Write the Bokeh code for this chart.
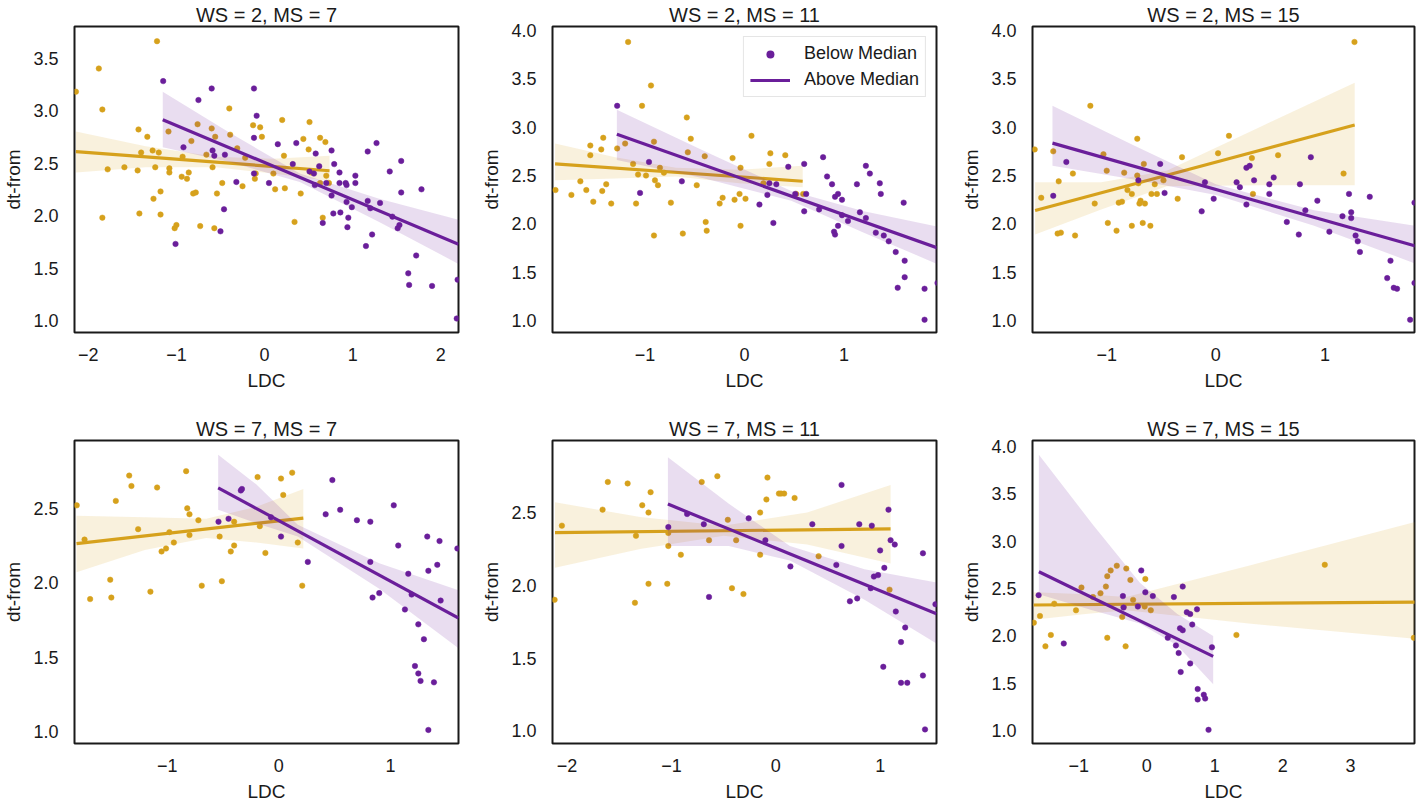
from bokeh.plotting import figure
from bokeh.layouts import gridplot
from bokeh.models import Range1d, FixedTicker, CustomJSTickFormatter, Legend, LegendItem
from bokeh.embed import file_html
from bokeh.resources import INLINE

GOLD = "#D6A11C"
PURPLE = "#6A1E9A"
FONT = "Liberation Sans"

titles = ["WS = 2, MS = 7", "WS = 2, MS = 11", "WS = 2, MS = 15",
          "WS = 7, MS = 7", "WS = 7, MS = 11", "WS = 7, MS = 15"]
x_label = "LDC"
y_label = "dt-from"
legend_labels = ["Below Median", "Above Median"]

# ---------------- Panel 1: WS = 2, MS = 7 ----------------
p1_gold_x = [-2.14, -1.22, -1.88, -1.84, -1.78, -1.84, -1.59, -1.43, -1.44, -1.42, -1.40, -1.33, -1.27, -1.24,
             -1.20, -1.18, -1.18, -1.26, -1.09, -1.08, -1.08, -1.02, -1.00, -0.94, -0.93, -0.88, -0.86, -0.81,
             -0.78, -0.76, -0.73, -0.83, -0.66, -0.60, -0.59, -0.56, -0.54, -0.57, -0.48, -0.40, -0.39, -0.31,
             -0.25, -0.22, -0.13, -0.10, -0.05, -0.03, -0.11, 0.10, 0.12, 0.20, 0.22, 0.23, 0.34, 0.41, 0.44,
             0.50, 0.51, 0.53, 0.63, 0.63, 0.66, 0.69, 0.70, 0.73]
p1_gold_y = [3.18, 3.66, 3.40, 3.01, 2.44, 1.98, 2.46, 2.82, 2.43, 2.02, 2.60, 2.75, 2.62, 2.46,
             2.60, 2.23, 2.01, 2.16, 2.80, 2.45, 2.41, 1.88, 1.91, 2.37, 2.56, 2.35, 2.41, 2.21,
             2.22, 2.87, 1.90, 2.71, 2.58, 2.83, 2.46, 2.75, 2.21, 1.88, 2.31, 3.02, 2.77, 2.64,
             2.28, 2.55, 2.86, 2.40, 2.84, 2.75, 2.35, 2.40, 2.25, 2.91, 2.57, 2.26, 1.94, 2.21, 2.73,
             2.63, 2.89, 2.41, 2.74, 2.31, 1.98, 2.70, 2.38, 2.31]
p1_purp_x = [-1.15, -1.01, -0.92, -0.75, -0.60, -0.59, -0.57, -0.50, -0.46, -0.45, -0.32, -0.12, -0.09, -0.12,
             -0.12, 0.05, 0.15, 0.32, 0.36, 0.51, 0.56, 0.58, 0.57, 0.62, 0.66, 0.70, 0.76, 0.76, 0.79, 0.78,
             0.85, 0.86, 0.85, 0.92, 0.93, 0.93, 0.94, 0.95, 0.99, 1.03, 1.03, 1.15, 1.17, 1.17, 1.20, 1.22,
             1.27, 1.31, 1.42, 1.45, 1.51, 1.53, 1.55, 1.55, 1.63, 1.64, 1.72, 1.78, 1.90, 2.19, 2.18]
p1_purp_y = [3.28, 1.73, 2.65, 3.10, 3.21, 2.62, 2.57, 1.85, 2.06, 2.58, 2.32, 3.21, 2.95, 2.74,
             2.40, 2.31, 2.68, 2.49, 2.69, 2.42, 2.40, 2.59, 2.29, 2.47, 1.93, 2.31, 2.62, 2.19, 2.49, 2.02,
             2.41, 2.03, 2.31, 2.31, 2.29, 2.13, 1.89, 1.98, 2.08, 2.38, 2.31, 1.71, 2.61, 2.14, 2.07, 1.82,
             2.69, 2.12, 2.42, 1.99, 1.88, 1.91, 2.52, 2.22, 1.45, 1.34, 1.62, 2.25, 1.33, 1.39, 1.02]
p1_gold_fit_x = [-2.14, 0.737]
p1_gold_fit_y = [2.609, 2.427]
p1_purp_fit_x = [-1.155, 2.2]
p1_purp_fit_y = [2.913, 1.728]
p1_gold_band_x = [-2.14, -1.35, -0.55, 0.1, 0.737]
p1_gold_band_lo = [2.41, 2.46, 2.46, 2.40, 2.33]
p1_gold_band_hi = [2.80, 2.66, 2.56, 2.54, 2.57]
p1_purp_band_x = [-1.155, -0.4, 0.4, 1.3, 2.2]
p1_purp_band_lo = [2.65, 2.51, 2.32, 1.94, 1.54]
p1_purp_band_hi = [3.18, 2.79, 2.40, 2.16, 1.96]
p1_xrange = (-2.156, 2.2)
p1_yrange = (0.887, 3.80)
p1_xticks = [-2, -1, 0, 1, 2]
p1_yticks = [1.0, 1.5, 2.0, 2.5, 3.0, 3.5]

# ---------------- Panel 2: WS = 2, MS = 11 ----------------
p2_gold_x = [-1.90, -1.74, -1.65, -1.59, -1.55, -1.55, -1.52, -1.44, -1.43, -1.42, -1.39, -1.34, -1.28, -1.20,
             -1.17, -1.12, -1.09, -1.07, -1.03, -0.99, -0.94, -0.91, -0.91, -0.90, -0.87, -0.85, -0.81, -0.74,
             -0.62, -0.58, -0.57, -0.54, -0.48, -0.40, -0.39, -0.38, -0.25, -0.22, -0.12, -0.10, -0.05, -0.04,
             -0.04, 0.01, 0.07, 0.26, 0.25, 0.41, 0.52, 0.59, 0.19]
p2_gold_y = [2.35, 2.30, 2.44, 2.35, 2.81, 2.71, 2.23, 2.77, 2.34, 2.89, 2.41, 2.21, 2.78, 2.83,
             3.88, 2.62, 2.21, 2.51, 3.22, 2.50, 3.43, 2.85, 1.88, 2.45, 2.40, 2.58, 2.53, 2.22,
             1.90, 3.10, 2.74, 2.88, 2.40, 2.70, 2.02, 1.93, 2.21, 2.27, 2.68, 2.25, 2.31, 2.58,
             1.98, 2.26, 2.91, 2.73, 2.62, 2.71, 2.31, 2.31, 2.42]
p2_purp_x = [-1.28, -1.05, -0.96, -0.63, 0.15, 0.23, 0.25, 0.29, 0.32, 0.44, 0.51, 0.60, 0.60, 0.62, 0.75,
             0.79, 0.83, 0.88, 0.91, 0.90, 0.91, 0.94, 0.94, 0.98, 0.98, 1.04, 1.13, 1.16, 1.22, 1.22, 1.26,
             1.32, 1.36, 1.37, 1.40, 1.45, 1.52, 1.54, 1.60, 1.61, 1.61, 1.81, 1.81, 1.94]
p2_purp_y = [3.22, 2.32, 2.64, 2.44, 2.20, 2.30, 2.42, 2.01, 2.41, 2.59, 2.31, 2.62, 2.13, 2.31, 2.15,
             2.69, 2.49, 2.41, 2.28, 1.92, 1.89, 2.31, 1.98, 2.25, 2.09, 2.03, 2.41, 2.12, 2.60, 2.06, 2.52,
             1.91, 2.42, 2.31, 1.88, 1.82, 1.71, 1.34, 2.22, 1.62, 1.45, 1.33, 1.01, 1.39]
p2_gold_fit_x = [-1.904, 0.585]
p2_gold_fit_y = [2.621, 2.441]
p2_purp_fit_x = [-1.283, 1.95]
p2_purp_fit_y = [2.927, 1.748]
p2_gold_band_x = [-1.904, -1.3, -0.69, -0.05, 0.585]
p2_gold_band_lo = [2.45, 2.47, 2.49, 2.42, 2.38]
p2_gold_band_hi = [2.83, 2.69, 2.58, 2.56, 2.60]
p2_purp_band_x = [-1.283, -0.4, 0.47, 1.2, 1.95]
p2_purp_band_lo = [2.66, 2.47, 2.24, 1.91, 1.58]
p2_purp_band_hi = [3.18, 2.75, 2.34, 2.13, 1.97]
p2_xrange = (-1.93, 1.93)
p2_yrange = (0.878, 4.04)
p2_xticks = [-1, 0, 1]
p2_yticks = [1.0, 1.5, 2.0, 2.5, 3.0, 3.5, 4.0]

# ---------------- Panel 3: WS = 2, MS = 15 ----------------
p3_gold_x = [-1.66, -1.60, -1.49, -1.45, -1.44, -1.42, -1.31, -1.29, -1.15, -1.11, -1.03, -1.00, -0.99, -0.91,
             -0.89, -0.86, -0.84, -0.81, -0.77, -0.77, -0.72, -0.72, -0.71, -0.70, -0.69, -0.67, -0.66, -0.65,
             -0.60, -0.59, -0.56, -0.54, -0.48, -0.35, -0.31, 0.02, 0.12, 0.33, 0.34, 0.57, 1.17, 1.27]
p3_gold_y = [2.77, 2.27, 2.75, 1.90, 2.44, 1.91, 2.52, 1.88, 3.22, 2.21, 2.72, 2.55, 2.01, 1.93,
             2.22, 2.23, 2.53, 2.35, 1.98, 2.31, 2.88, 2.50, 2.42, 2.21, 2.24, 2.01, 2.62, 2.21,
             1.98, 2.31, 2.41, 2.31, 2.45, 2.26, 2.69, 2.73, 2.91, 2.68, 2.31, 2.71, 2.52, 3.88]
p3_purp_x = [-1.49, -1.37, -0.71, -0.51, -0.47, -0.13, -0.10, -0.02, 0.19, 0.22, 0.28, 0.28, 0.31, 0.35,
             0.49, 0.49, 0.53, 0.65, 0.76, 0.77, 0.82, 0.87, 0.93, 1.04, 1.16, 1.22, 1.24, 1.24, 1.28, 1.30,
             1.32, 1.41, 1.57, 1.60, 1.63, 1.66, 1.78, 1.82, 1.82]
p3_purp_y = [2.29, 2.64, 2.45, 2.62, 2.32, 2.13, 2.43, 2.26, 2.43, 2.38, 2.20, 2.58, 2.60, 2.45,
             2.41, 2.31, 2.48, 2.02, 1.89, 2.41, 2.14, 2.69, 2.24, 1.92, 2.08, 2.31, 2.12, 2.06, 1.88, 1.82,
             1.71, 2.28, 1.44, 1.62, 1.34, 1.33, 1.01, 2.22, 1.39]
p3_gold_fit_x = [-1.656, 1.272]
p3_gold_fit_y = [2.138, 3.022]
p3_purp_fit_x = [-1.497, 1.83]
p3_purp_fit_y = [2.835, 1.771]
p3_gold_band_x = [-1.656, -1.05, -0.45, 0.4, 1.272]
p3_gold_band_lo = [1.89, 2.15, 2.39, 2.40, 2.40]
p3_gold_band_hi = [2.43, 2.43, 2.55, 3.00, 3.46]
p3_purp_band_x = [-1.497, -0.75, 0.0, 0.9, 1.83]
p3_purp_band_lo = [2.60, 2.46, 2.30, 1.98, 1.59]
p3_purp_band_hi = [3.22, 2.81, 2.41, 2.14, 1.98]
p3_xrange = (-1.68, 1.82)
p3_yrange = (0.878, 4.04)
p3_xticks = [-1, 0, 1]
p3_yticks = [1.0, 1.5, 2.0, 2.5, 3.0, 3.5, 4.0]

# ---------------- Panel 4: WS = 7, MS = 7 ----------------
p4_gold_x = [-1.81, -1.74, -1.69, -1.51, -1.50, -1.46, -1.34, -1.32, -1.26, -1.15, -1.09, -1.05, -1.01, -0.98,
             -0.94, -0.83, -0.82, -0.80, -0.80, -0.72, -0.69, -0.53, -0.51, -0.43, -0.40, -0.40, -0.19, -0.17,
             -0.12, 0.02, 0.04, 0.12, 0.17, 0.21]
p4_gold_y = [2.52, 2.29, 1.89, 2.02, 1.90, 2.55, 2.72, 2.65, 2.36, 1.94, 2.64, 2.21, 2.23, 2.34,
             2.27, 2.75, 2.50, 2.46, 2.32, 2.42, 1.98, 2.31, 2.01, 2.21, 2.25, 2.41, 2.71, 2.38,
             2.20, 2.70, 2.59, 2.74, 2.27, 1.98]
p4_purp_x = [-0.54, -0.45, -0.34, -0.33, -0.07, 0.02, 0.26, 0.42, 0.48, 0.55, 0.70, 0.82, 0.82, 0.84, 0.90,
             1.03, 1.07, 1.13, 1.16, 1.19, 1.22, 1.25, 1.25, 1.27, 1.30, 1.33, 1.34, 1.34, 1.39, 1.42, 1.44,
             1.45, 1.60]
p4_purp_y = [2.41, 2.43, 2.62, 2.63, 2.44, 2.31, 2.14, 2.46, 2.69, 2.49, 2.42, 2.41, 2.14, 1.90, 1.93,
             2.52, 2.25, 1.82, 2.06, 1.92, 1.44, 1.39, 1.72, 1.34, 1.62, 2.31, 2.08, 1.01, 1.33, 2.12, 2.28,
             1.88, 2.23]
p4_gold_fit_x = [-1.812, 0.22]
p4_gold_fit_y = [2.263, 2.434]
p4_purp_fit_x = [-0.543, 1.61]
p4_purp_fit_y = [2.638, 1.762]
p4_gold_band_x = [-1.812, -1.2, -0.65, -0.2, 0.22]
p4_gold_band_lo = [2.07, 2.22, 2.30, 2.27, 2.23]
p4_gold_band_hi = [2.45, 2.44, 2.43, 2.51, 2.63]
p4_purp_band_x = [-0.543, -0.2, 0.17, 0.9, 1.61]
p4_purp_band_lo = [2.49, 2.40, 2.31, 1.96, 1.56]
p4_purp_band_hi = [2.86, 2.66, 2.39, 2.13, 1.95]
p4_xrange = (-1.83, 1.61)
p4_yrange = (0.919, 2.956)
p4_xticks = [-1, 0, 1]
p4_yticks = [1.0, 1.5, 2.0, 2.5]

# ---------------- Panel 5: WS = 7, MS = 11 ----------------
p5_gold_x = [-2.12, -2.05, -1.66, -1.61, -1.42, -1.34, -1.28, -1.22, -1.22, -1.20, -1.35, -1.04, -1.03, -1.03,
             -0.91, -0.71, -0.64, -0.56, -0.46, -0.42, -0.38, -0.31, -0.15, -0.15, -0.09, -0.08, 0.03, 0.05,
             0.08, 0.18, 0.41, 1.09]
p5_gold_y = [1.90, 2.41, 2.52, 2.71, 2.70, 2.34, 2.55, 2.50, 2.01, 2.64, 1.88, 2.01, 2.27, 2.36,
             2.21, 2.71, 2.31, 2.75, 2.45, 1.98, 2.31, 1.94, 2.21, 2.50, 2.59, 2.74, 2.63, 2.63,
             2.63, 2.60, 2.20, 1.97]
p5_purp_x = [-1.03, -0.85, -0.69, -0.64, -0.26, -0.10, 0.14, 0.35, 0.58, 0.63, 0.63, 0.71, 0.78, 0.80, 0.92,
             0.91, 0.94, 0.98, 1.00, 1.04, 1.03, 1.08, 1.10, 1.14, 1.15, 1.20, 1.20, 1.24, 1.26, 1.41, 1.41,
             1.43, 1.53]
p5_purp_y = [2.40, 2.49, 2.42, 1.92, 2.46, 2.31, 2.13, 2.42, 2.14, 2.69, 2.27, 1.89, 1.91, 2.42, 2.41,
             1.98, 2.06, 2.07, 2.24, 2.12, 1.44, 2.52, 2.31, 2.28, 1.82, 1.61, 1.33, 1.71, 1.33, 2.22, 1.38,
             1.01, 1.87]
p5_gold_fit_x = [-2.116, 1.10]
p5_gold_fit_y = [2.362, 2.388]
p5_purp_fit_x = [-1.034, 1.54]
p5_purp_fit_y = [2.558, 1.804]
p5_gold_band_x = [-2.116, -1.3, -0.5, 0.3, 1.10]
p5_gold_band_lo = [2.12, 2.25, 2.34, 2.28, 2.15]
p5_gold_band_hi = [2.57, 2.47, 2.41, 2.50, 2.69]
p5_purp_band_x = [-1.034, -0.45, 0.135, 0.85, 1.54]
p5_purp_band_lo = [2.27, 2.27, 2.17, 1.90, 1.60]
p5_purp_band_hi = [2.88, 2.56, 2.27, 2.11, 2.02]
p5_xrange = (-2.14, 1.54)
p5_yrange = (0.913, 2.995)
p5_xticks = [-2, -1, 0, 1]
p5_yticks = [1.0, 1.5, 2.0, 2.5]

# ---------------- Panel 6: WS = 7, MS = 15 ----------------
p6_gold_x = [-1.66, -1.57, -1.49, -1.41, -1.36, -1.04, -0.96, -0.79, -0.68, -0.60, -0.58, -0.58, -0.53, -0.44,
             -0.36, -0.34, -0.31, -0.30, -0.24, -0.20, -0.03, -0.02, 0.06, 1.32, 2.62, 3.93]
p6_gold_y = [2.14, 2.21, 1.89, 2.01, 2.34, 2.27, 2.51, 2.41, 2.45, 2.52, 2.63, 1.98, 2.69, 2.74,
             2.20, 2.31, 1.89, 2.71, 2.59, 2.38, 2.31, 2.60, 2.27, 2.01, 2.75, 1.98]
p6_purp_x = [-1.59, -1.22, -0.35, -0.34, -0.13, -0.08, -0.02, 0.09, 0.31, 0.40, 0.43, 0.47, 0.50, 0.49, 0.53,
             0.53, 0.59, 0.64, 0.67, 0.64, 0.74, 0.75, 0.75, 0.84, 0.86, 0.91, 0.96]
p6_purp_y = [2.43, 1.92, 2.42, 2.30, 2.31, 2.69, 2.46, 2.42, 1.98, 2.41, 1.90, 1.82, 1.62, 2.08, 2.52,
             2.06, 2.25, 2.23, 2.12, 1.71, 2.28, 1.44, 1.33, 1.38, 1.34, 1.01, 1.88]
p6_gold_fit_x = [-1.663, 3.947]
p6_gold_fit_y = [2.326, 2.357]
p6_purp_fit_x = [-1.586, 0.978]
p6_purp_fit_y = [2.677, 1.784]
p6_gold_band_x = [-1.663, -0.9, -0.3, 1.5, 3.947]
p6_gold_band_lo = [2.17, 2.23, 2.27, 2.13, 1.97]
p6_gold_band_hi = [2.46, 2.44, 2.41, 2.74, 3.20]
p6_purp_band_x = [-1.586, -0.8, -0.1, 0.45, 0.978]
p6_purp_band_lo = [2.44, 2.27, 2.13, 1.90, 1.49]
p6_purp_band_hi = [3.91, 3.18, 2.56, 2.23, 2.00]
p6_xrange = (-1.68, 3.94)
p6_yrange = (0.866, 4.06)
p6_xticks = [-1, 0, 1, 2, 3]
p6_yticks = [1.0, 1.5, 2.0, 2.5, 3.0, 3.5, 4.0]

panels = [
    (p1_gold_x, p1_gold_y, p1_purp_x, p1_purp_y, p1_gold_fit_x, p1_gold_fit_y, p1_purp_fit_x, p1_purp_fit_y,
     p1_gold_band_x, p1_gold_band_lo, p1_gold_band_hi, p1_purp_band_x, p1_purp_band_lo, p1_purp_band_hi,
     p1_xrange, p1_yrange, p1_xticks, p1_yticks),
    (p2_gold_x, p2_gold_y, p2_purp_x, p2_purp_y, p2_gold_fit_x, p2_gold_fit_y, p2_purp_fit_x, p2_purp_fit_y,
     p2_gold_band_x, p2_gold_band_lo, p2_gold_band_hi, p2_purp_band_x, p2_purp_band_lo, p2_purp_band_hi,
     p2_xrange, p2_yrange, p2_xticks, p2_yticks),
    (p3_gold_x, p3_gold_y, p3_purp_x, p3_purp_y, p3_gold_fit_x, p3_gold_fit_y, p3_purp_fit_x, p3_purp_fit_y,
     p3_gold_band_x, p3_gold_band_lo, p3_gold_band_hi, p3_purp_band_x, p3_purp_band_lo, p3_purp_band_hi,
     p3_xrange, p3_yrange, p3_xticks, p3_yticks),
    (p4_gold_x, p4_gold_y, p4_purp_x, p4_purp_y, p4_gold_fit_x, p4_gold_fit_y, p4_purp_fit_x, p4_purp_fit_y,
     p4_gold_band_x, p4_gold_band_lo, p4_gold_band_hi, p4_purp_band_x, p4_purp_band_lo, p4_purp_band_hi,
     p4_xrange, p4_yrange, p4_xticks, p4_yticks),
    (p5_gold_x, p5_gold_y, p5_purp_x, p5_purp_y, p5_gold_fit_x, p5_gold_fit_y, p5_purp_fit_x, p5_purp_fit_y,
     p5_gold_band_x, p5_gold_band_lo, p5_gold_band_hi, p5_purp_band_x, p5_purp_band_lo, p5_purp_band_hi,
     p5_xrange, p5_yrange, p5_xticks, p5_yticks),
    (p6_gold_x, p6_gold_y, p6_purp_x, p6_purp_y, p6_gold_fit_x, p6_gold_fit_y, p6_purp_fit_x, p6_purp_fit_y,
     p6_gold_band_x, p6_gold_band_lo, p6_gold_band_hi, p6_purp_band_x, p6_purp_band_lo, p6_purp_band_hi,
     p6_xrange, p6_yrange, p6_xticks, p6_yticks),
]

# layout (pixels)
LEFTS = [67, 68, 68]
RIGHTS = [20, 22, 2]
FRAME_WS = [391, 390, 388]
TOP = 24
BOTTOMS = [82, 58]
FRAME_H = 308

x_fmt = CustomJSTickFormatter(code="return tick < 0 ? '\\u2212' + Math.abs(tick) : tick.toFixed(0);")
y_fmt = CustomJSTickFormatter(code="return tick.toFixed(1);")

figs = []
for i, pan in enumerate(panels):
    (gx, gy, px, py, gfx, gfy, pfx, pfy, gbx, gblo, gbhi, pbx, pblo, pbhi, xr, yr, xt, yt) = pan
    row, col = divmod(i, 3)
    w = LEFTS[col] + FRAME_WS[col] + RIGHTS[col]
    h = TOP + FRAME_H + BOTTOMS[row]
    p = figure(width=w, height=h, output_backend="svg", toolbar_location=None,
               x_range=Range1d(*xr), y_range=Range1d(*yr), title=titles[i],
               min_border_left=LEFTS[col], min_border_right=RIGHTS[col],
               min_border_top=TOP, min_border_bottom=BOTTOMS[row])
    p.title.text_font = FONT
    p.title.text_font_size = "20px"
    p.title.text_font_style = "normal"
    p.title.text_color = "#1a1a1a"
    p.title.align = "center"
    p.title.standoff = 2
    p.outline_line_color = "#1a1a1a"
    p.outline_line_width = 2
    p.xgrid.visible = False
    p.ygrid.visible = False
    p.background_fill_color = "white"
    p.border_fill_color = "white"

    for ax, ticks, fmt, lab in ((p.xaxis[0], xt, x_fmt, x_label), (p.yaxis[0], yt, y_fmt, y_label)):
        ax.ticker = FixedTicker(ticks=ticks)
        ax.formatter = fmt
        ax.axis_label = lab
        ax.axis_line_color = None
        ax.major_tick_line_color = None
        ax.minor_tick_line_color = None
        ax.major_tick_out = 0
        ax.major_tick_in = 0
        ax.minor_tick_out = 0
        ax.major_label_text_font = FONT
        ax.major_label_text_font_size = "18px"
        ax.major_label_text_color = "#1a1a1a"
        ax.axis_label_text_font = FONT
        ax.axis_label_text_font_size = "19px"
        ax.axis_label_text_font_style = "normal"
        ax.axis_label_text_color = "#1a1a1a"
    p.xaxis[0].major_label_standoff = 15
    p.xaxis[0].axis_label_standoff = 6
    p.yaxis[0].major_label_standoff = 16
    p.yaxis[0].axis_label_standoff = 6

    # gold group
    p.scatter(gx, gy, size=5.5, fill_color=GOLD, line_color=GOLD, line_width=0.5)
    p.varea(x=gbx, y1=gblo, y2=gbhi, fill_color=GOLD, fill_alpha=0.15)
    p.line(gfx, gfy, line_color=GOLD, line_width=3.2)
    # purple group (small copy underneath serves as the legend marker)
    small_dots = p.scatter(px, py, size=3.5, fill_color=PURPLE, line_color=PURPLE, line_width=0)
    p.scatter(px, py, size=5.5, fill_color=PURPLE, line_color=PURPLE, line_width=0.5)
    p.varea(x=pbx, y1=pblo, y2=pbhi, fill_color=PURPLE, fill_alpha=0.15)
    pl = p.line(pfx, pfy, line_color=PURPLE, line_width=3.2)

    if i == 1:
        leg = Legend(items=[LegendItem(label=legend_labels[0], renderers=[small_dots]),
                            LegendItem(label=legend_labels[1], renderers=[pl])],
                     location="top_right")
        leg.label_text_font = FONT
        leg.label_text_font_size = "18px"
        leg.label_text_color = "#1a1a1a"
        leg.border_line_color = "#cccccc"
        leg.border_line_width = 1
        leg.background_fill_alpha = 0.85
        leg.glyph_width = 40
        leg.glyph_height = 20
        leg.label_standoff = 14
        leg.padding = 6
        leg.spacing = 5
        leg.margin = 10
        p.add_layout(leg)
    figs.append(p)

grid = gridplot([figs[:3], figs[3:]], toolbar_location=None)
open("out.html", "w").write(file_html(grid, INLINE))
